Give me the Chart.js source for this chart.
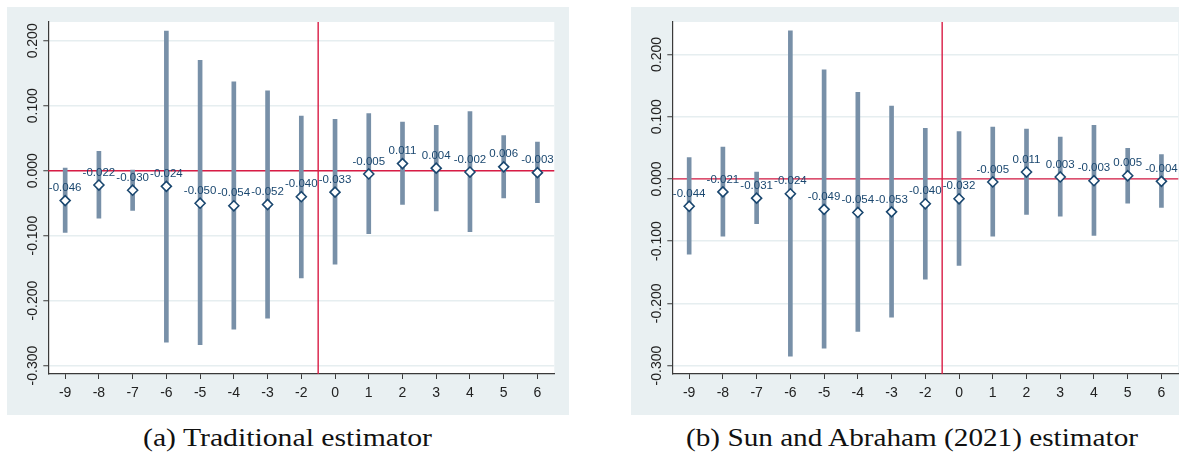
<!DOCTYPE html>
<html>
<head>
<meta charset="utf-8">
<script src="https://cdn.jsdelivr.net/npm/chart.js@4.4.1/dist/chart.umd.min.js"></script>
<style>
body { margin: 0; background: #fff; width: 1179px; height: 457px; overflow: hidden; position: relative; }
.panel { position: absolute; top: 7px; width: 562px; height: 408px; background: #e9f0f2; }
#pa { left: 7px; }
#pb { left: 631px; }
.cap { position: absolute; top: 423px; font: 26px "Liberation Serif", serif; color: #111; white-space: nowrap; transform-origin: left top; }
</style>
</head>
<body>
<div class="panel" id="pa"><canvas id="chartA" width="562" height="408"></canvas></div>
<div class="panel" id="pb"><canvas id="chartB" width="562" height="408"></canvas></div>
<div class="cap" id="capA" style="left:143px">(a) Traditional estimator</div>
<div class="cap" id="capB" style="left:686px">(b) Sun and Abraham (2021) estimator</div>

<script>
// event time (period -1 is the omitted reference)
var periods = ['-9', '-8', '-7', '-6', '-5', '-4', '-3', '-2', '0', '1', '2', '3', '4', '5', '6'];
var yTicks = [-0.3, -0.2, -0.1, 0, 0.1, 0.2];

// (a) traditional estimator
var coefA = [-0.046, -0.022, -0.030, -0.024, -0.050, -0.054, -0.052, -0.040, -0.033, -0.005, 0.011, 0.004, -0.002, 0.006, -0.003];
var lowA  = [-0.095, -0.073, -0.061, -0.264, -0.268, -0.244, -0.227, -0.165, -0.144, -0.097, -0.052, -0.062, -0.094, -0.042, -0.049];
var highA = [0.004, 0.030, 0.001, 0.215, 0.170, 0.137, 0.123, 0.084, 0.079, 0.088, 0.075, 0.070, 0.091, 0.054, 0.044];
var rangeA = [-0.313, 0.229];

// (b) Sun and Abraham (2021)
var coefB = [-0.044, -0.021, -0.031, -0.024, -0.049, -0.054, -0.053, -0.040, -0.032, -0.005, 0.011, 0.003, -0.003, 0.005, -0.004];
var lowB  = [-0.121, -0.092, -0.072, -0.285, -0.272, -0.245, -0.222, -0.161, -0.139, -0.092, -0.057, -0.060, -0.091, -0.039, -0.046];
var highB = [0.034, 0.051, 0.011, 0.238, 0.175, 0.139, 0.117, 0.081, 0.076, 0.083, 0.080, 0.067, 0.086, 0.049, 0.039];
var rangeB = [-0.3135, 0.252];

var navy = '#1a476f';
var ciColor = '#7890a8';
var refRed = '#d91c45';
var axisColor = '#3a3a3a';
var gridColor = '#e6eef0';
var sans = '"Liberation Sans", Arial, sans-serif';

// white plot region on the grey graph region
var plotBg = {
    id: 'plotBg',
    beforeDraw: function(chart) {
        var a = chart.chartArea;
        chart.ctx.save();
        chart.ctx.fillStyle = '#fff';
        chart.ctx.fillRect(a.left, a.top, a.right - a.left, a.bottom - a.top);
        chart.ctx.restore();
    }
};

// red lines at y = 0 and at the omitted period -1
var refLines = {
    id: 'refLines',
    beforeDatasetsDraw: function(chart) {
        var ctx = chart.ctx, a = chart.chartArea;
        var xs = chart.scales.x, ys = chart.scales.y;
        var y0 = ys.getPixelForValue(0);
        var xr = (xs.getPixelForValue(7) + xs.getPixelForValue(8)) / 2;
        ctx.save();
        ctx.strokeStyle = refRed;
        ctx.lineWidth = 1.4;
        ctx.beginPath();
        ctx.moveTo(a.left, y0);
        ctx.lineTo(a.right, y0);
        ctx.moveTo(xr, a.top);
        ctx.lineTo(xr, a.bottom);
        ctx.stroke();
        ctx.restore();
    }
};

// coefficient text above each marker
var pointLabels = {
    id: 'pointLabels',
    afterDatasetsDraw: function(chart) {
        var ctx = chart.ctx;
        var meta = chart.getDatasetMeta(0);
        var vals = chart.data.datasets[0].data;
        ctx.save();
        ctx.font = '11.5px ' + sans;
        ctx.fillStyle = navy;
        ctx.textAlign = 'center';
        ctx.textBaseline = 'middle';
        meta.data.forEach(function(pt, i) {
            ctx.fillText(vals[i].toFixed(3), pt.x, pt.y - 12.5);
        });
        ctx.restore();
    }
};

function makeChart(id, coef, low, high, range) {
    var ci = [];
    for (var i = 0; i < low.length; i++) {
        ci.push([low[i], high[i]]);
    }
    return new Chart(document.getElementById(id), {
        type: 'bar',
        data: {
            labels: periods,
            datasets: [{
                type: 'line',
                data: coef,
                showLine: false,
                pointStyle: 'rectRot',
                pointRadius: 5,
                pointBackgroundColor: '#fff',
                pointBorderColor: navy,
                pointBorderWidth: 1.6,
                order: 0
            }, {
                type: 'bar',
                data: ci,
                backgroundColor: ciColor,
                borderWidth: 0,
                barThickness: 4,
                order: 1
            }]
        },
        options: {
            responsive: false,
            animation: false,
            events: [],
            layout: { padding: { left: 0, top: 15, right: 14.7, bottom: 14.6 } },
            plugins: { legend: { display: false }, tooltip: { enabled: false } },
            scales: {
                x: {
                    offset: true,
                    afterFit: function(scale) { scale.height = 26.4; },
                    grid: { offset: false, drawOnChartArea: false, drawTicks: true, tickLength: 5, tickColor: axisColor, tickWidth: 1 },
                    border: { color: axisColor, width: 1.2 },
                    ticks: { color: '#222', font: { family: sans, size: 14 }, padding: 5.5, autoSkip: false, maxRotation: 0 }
                },
                y: {
                    min: range[0],
                    max: range[1],
                    afterFit: function(scale) { scale.width = 41.3; },
                    afterBuildTicks: function(scale) {
                        scale.ticks = yTicks.map(function(v) { return { value: v }; });
                    },
                    grid: { color: gridColor, lineWidth: 1.5, drawTicks: true, tickLength: 5, tickColor: axisColor, tickWidth: 1 },
                    border: { color: axisColor, width: 1.2 },
                    ticks: {
                        color: '#222',
                        font: { family: sans, size: 14 },
                        minRotation: 90,
                        maxRotation: 90,
                        crossAlign: 'center',
                        padding: -9.75,
                        callback: function(v) { return Number(v).toFixed(3); }
                    }
                }
            }
        },
        plugins: [plotBg, refLines, pointLabels]
    });
}

makeChart('chartA', coefA, lowA, highA, rangeA);
makeChart('chartB', coefB, lowB, highB, rangeB);

// stretch the serif captions to the caption widths of the figure
function fitCaption(id, target) {
    var el = document.getElementById(id);
    var w = el.getBoundingClientRect().width;
    el.style.transform = 'scaleX(' + (target / w) + ')';
}
fitCaption('capA', 289);
fitCaption('capB', 452);
</script>
</body>
</html>
